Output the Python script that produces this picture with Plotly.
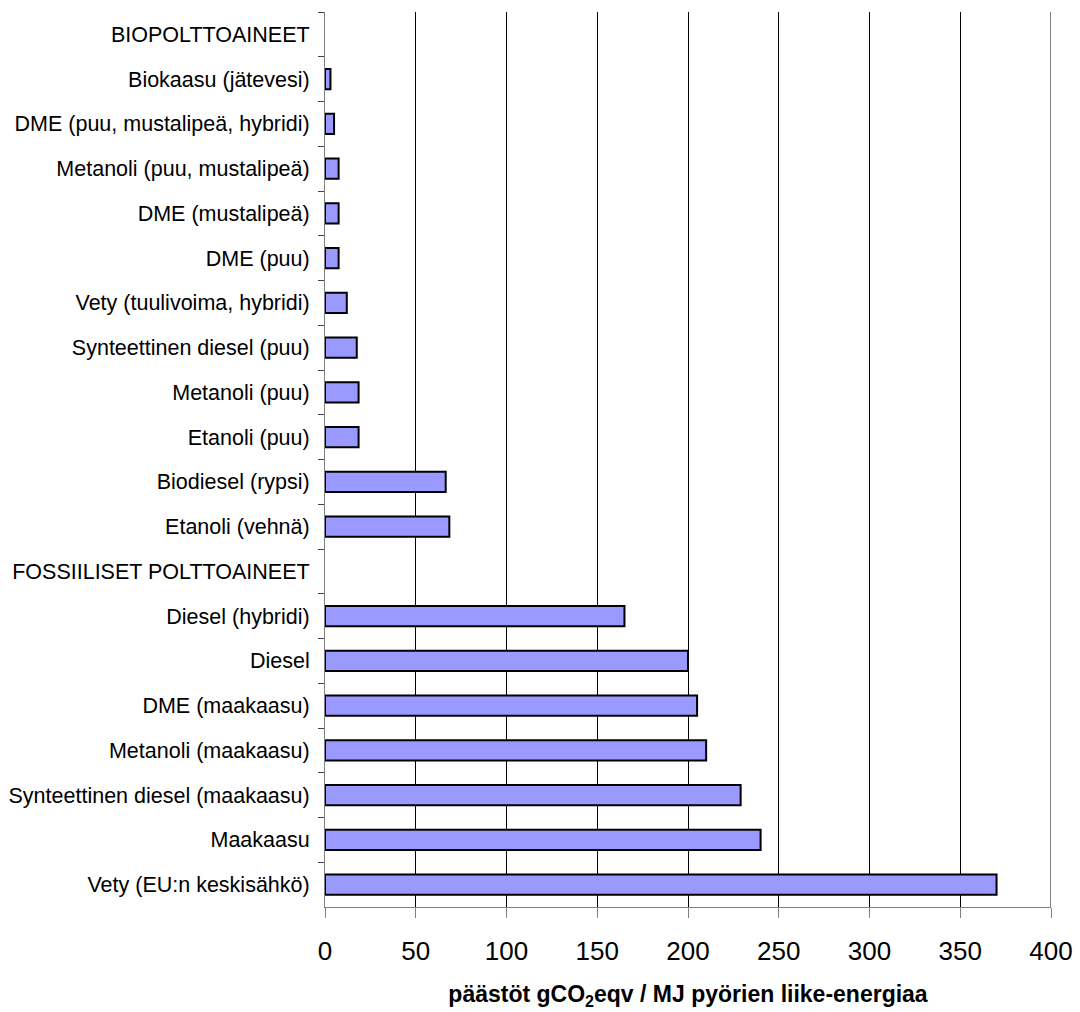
import plotly.graph_objects as go

categories = [
    "BIOPOLTTOAINEET",
    "Biokaasu (jätevesi)",
    "DME (puu, mustalipeä, hybridi)",
    "Metanoli (puu, mustalipeä)",
    "DME (mustalipeä)",
    "DME (puu)",
    "Vety (tuulivoima, hybridi)",
    "Synteettinen diesel (puu)",
    "Metanoli (puu)",
    "Etanoli (puu)",
    "Biodiesel (rypsi)",
    "Etanoli (vehnä)",
    "FOSSIILISET POLTTOAINEET",
    "Diesel (hybridi)",
    "Diesel",
    "DME (maakaasu)",
    "Metanoli (maakaasu)",
    "Synteettinen diesel (maakaasu)",
    "Maakaasu",
    "Vety (EU:n keskisähkö)",
]
values = [None, 3, 5, 7.5, 7.5, 7.5, 12, 17.5, 18.5, 18.5, 66.5, 68.5,
          None, 165, 200, 205, 210, 229, 240, 370]

x_ticks = [0, 50, 100, 150, 200, 250, 300, 350, 400]
x_title = "<b>päästöt gCO<sub>2</sub>eqv / MJ pyörien liike-energiaa</b>"

fig = go.Figure(go.Bar(
    x=values, y=categories, orientation="h",
    marker=dict(color="#9999FF", line=dict(color="black", width=2)),
    width=0.45,
))

fig.update_layout(
    width=1080, height=1012,
    margin=dict(l=325, r=29, t=12, b=105),
    paper_bgcolor="white", plot_bgcolor="white",
    font=dict(family="Liberation Sans, Arial, sans-serif", color="black"),
    showlegend=False,
    shapes=[dict(type="line", xref="x", yref="paper", x0=x_ticks[-1], x1=x_ticks[-1],
                 y0=0, y1=1, line=dict(color="black", width=1), layer="below")],
)
fig.update_xaxes(
    range=[0, 400], tickvals=x_ticks, ticktext=[str(v) for v in x_ticks],
    showgrid=True, gridcolor="black", gridwidth=1,
    showline=True, linecolor="#808080", linewidth=1,
    ticks="outside", ticklen=10, tickcolor="#808080", tickwidth=1,
    tickfont=dict(size=26), ticklabelstandoff=11,
    zeroline=False, automargin=False,
    title=dict(text=x_title, font=dict(size=23), standoff=20),
)
fig.update_yaxes(
    type="category", categoryorder="array", categoryarray=categories,
    autorange="reversed",
    showgrid=False,
    showline=True, linecolor="#808080", linewidth=1,
    ticks="outside", ticklen=6, tickcolor="#404040", tickwidth=1,
    tickson="boundaries", automargin=False,
    tickfont=dict(size=21.5), ticklabelstandoff=10,
)

fig.write_html("out.html")
